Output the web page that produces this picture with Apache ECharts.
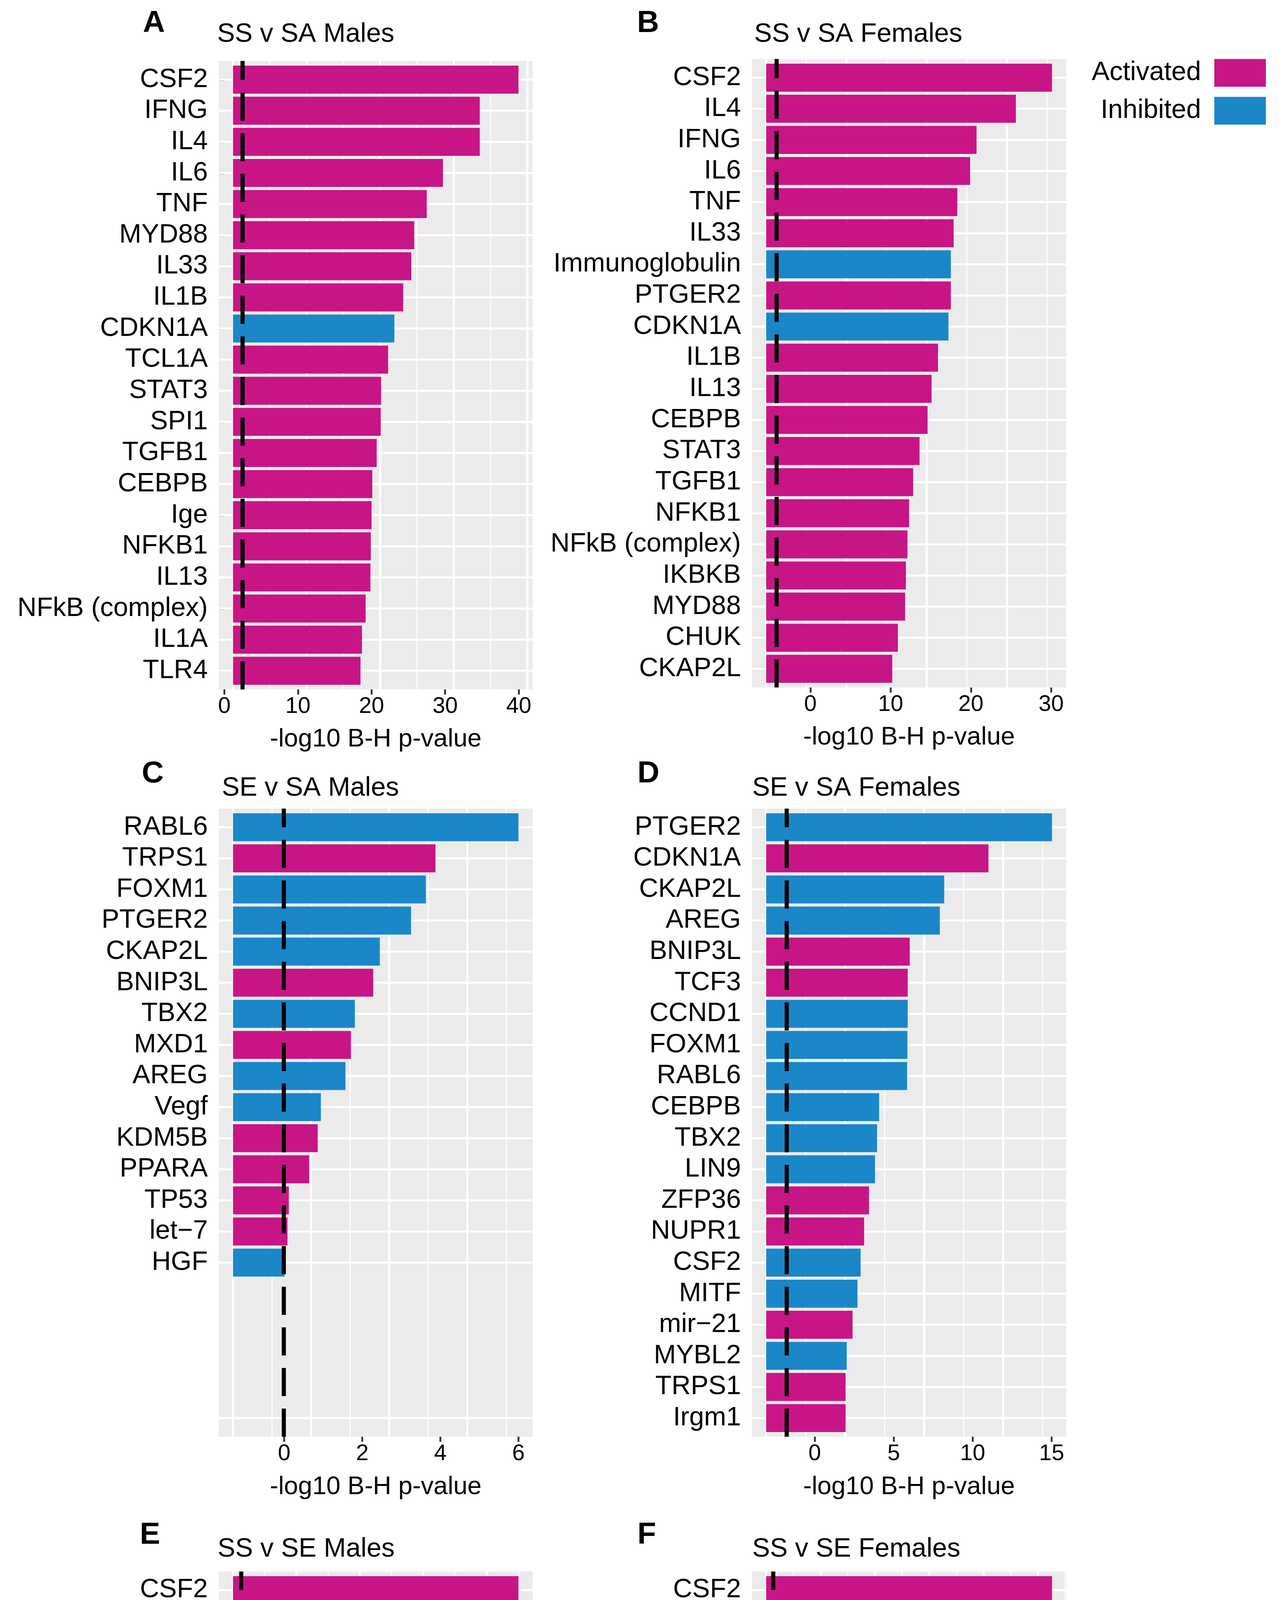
<!DOCTYPE html>
<html><head><meta charset="utf-8">
<script src="https://cdn.jsdelivr.net/npm/echarts@6/dist/echarts.min.js"></script>
<style>html,body{margin:0;padding:0;background:#fff}#c{width:3290px;height:5837px}</style>
</head><body><div id="c"></div>
<script>
// ---------------- data ----------------
const namesA = ['CSF2','IFNG','IL4','IL6','TNF','MYD88','IL33','IL1B','CDKN1A','TCL1A','STAT3','SPI1','TGFB1','CEBPB','Ige','NFKB1','IL13','NFkB (complex)','IL1A','TLR4'];
const valuesA = [39.96,34.7,34.7,29.7,27.5,25.8,25.4,24.3,23.1,22.25,21.3,21.25,20.7,20.1,20.0,19.9,19.85,19.2,18.7,18.5];
const dirA = ['A','A','A','A','A','A','A','A','I','A','A','A','A','A','A','A','A','A','A','A'];
const baseA = 1.18;
const ticksA = [0,10,20,30,40];
const stepA = 10;

const namesB = ['CSF2','IL4','IFNG','IL6','TNF','IL33','Immunoglobulin','PTGER2','CDKN1A','IL1B','IL13','CEBPB','STAT3','TGFB1','NFKB1','NFkB (complex)','IKBKB','MYD88','CHUK','CKAP2L'];
const valuesB = [30.1,25.6,20.7,19.9,18.3,17.85,17.5,17.5,17.2,15.9,15.1,14.6,13.6,12.8,12.3,12.1,11.9,11.8,10.9,10.2];
const dirB = ['A','A','A','A','A','A','I','A','I','A','A','A','A','A','A','A','A','A','A','A'];
const baseB = -5.51;
const ticksB = [0,10,20,30];
const stepB = 10;

const namesC = ['RABL6','TRPS1','FOXM1','PTGER2','CKAP2L','BNIP3L','TBX2','MXD1','AREG','Vegf','KDM5B','PPARA','TP53','let\u22127','HGF'];
const valuesC = [6.0,3.875,3.63,3.25,2.45,2.28,1.81,1.71,1.57,0.94,0.86,0.64,0.12,0.085,0.01];
const dirC = ['I','A','I','I','I','A','I','A','I','I','A','A','A','A','I'];
const baseC = -1.31;
const ticksC = [0,2,4,6];
const stepC = 2;
const rowSlotsC = 20;

const namesD = ['PTGER2','CDKN1A','CKAP2L','AREG','BNIP3L','TCF3','CCND1','FOXM1','RABL6','CEBPB','TBX2','LIN9','ZFP36','NUPR1','CSF2','MITF','mir\u221221','MYBL2','TRPS1','Irgm1'];
const valuesD = [15.02,11.0,8.2,7.92,6.02,5.89,5.89,5.87,5.85,4.08,3.95,3.82,3.44,3.13,2.91,2.71,2.40,2.03,1.96,1.96];
const dirD = ['I','A','I','I','A','A','I','I','I','I','I','I','A','A','I','I','A','I','A','A'];
const baseD = -3.07;
const ticksD = [0,5,10,15];
const stepD = 5;

const namesE = ['CSF2','IL6','CEBPB','IL4','TNF','IFNG','CDKN1A','PTGER2','IL1B','MYD88','TGFB1','NR1H3','TCL1A','IL17A','IL33','IL13','STAT3','NFkB (complex)','Ige','NOS2'];
const valuesE = [40.0,38.0,28.0,26.5,26.45,26.2,25.3,24.7,21.65,20.66,19.2,18.2,16.15,16.15,16.1,15.8,15.8,15.5,15.4,15.3];
const dirE = ['A','A','A','A','A','A','I','A','A','A','A','I','A','A','A','A','A','A','A','A'];
const baseE = -5.0;
const ticksE = [0,10,20,30,40];
const stepE = 10;

const namesF = ['CSF2','CDKN1A','PTGER2','IL6','CEBPB','IL4','CKAP2L','TCF3','TCL1A','IFNG','TNF','IL33','IKBKB','IL1B','TGFB1','Vegf','IL13','mir\u221221','NFkB (complex)','MYD88'];
const valuesF = [50.0,36.6,30.6,28.5,26.7,26.1,24.7,24.4,22.0,21.8,21.8,21.4,20.5,19.7,19.3,18.1,18.0,17.8,17.05,16.5];
const dirF = ['A','I','A','A','A','A','A','I','A','A','A','A','A','A','A','A','A','I','A','A'];
const baseF = -2.56;
const ticksF = [0,10,20,30,40,50];
const stepF = 10;

const SIG_OFFSET = 1.30103; // -log10(0.05)
const legendNames = ['Activated','Inhibited'];
const panelLetters = ['A','B','C','D','E','F'];
const panelTitles = ['SS v SA Males','SS v SA Females','SE v SA Males','SE v SA Females','SS v SE Males','SS v SE Females'];
const xTitle = '-log10 B-H p-value';

// ---------------- layout / style ----------------
const FONT = '"Liberation Sans", Arial, Helvetica, sans-serif';
const COLORS = {A:'#C71585', I:'#1A87C9'};
const boxes = [
  {left:560, top:156, width:804, height:1609, nameGap:96, lx:366, ly:21, tx:556, ty:54},
  {left:1925, top:151, width:805, height:1609, nameGap:96, lx:1631, ly:21, tx:1931, ty:54},
  {left:560, top:2070, width:804, height:1608, nameGap:97, lx:363, ly:1942, tx:568, ty:1984},
  {left:1925, top:2070, width:805, height:1608, nameGap:97, lx:1632, ly:1942, tx:1926, ty:1984},
  {left:560, top:4023, width:804, height:1607, nameGap:116, lx:358, ly:3891, tx:557, ty:3932},
  {left:1925, top:4023, width:805, height:1607, nameGap:116, lx:1632, ly:3891, tx:1926, ty:3932}
];

const panels = [
  {names:namesA, values:valuesA, dirs:dirA, base:baseA, ticks:ticksA, step:stepA},
  {names:namesB, values:valuesB, dirs:dirB, base:baseB, ticks:ticksB, step:stepB},
  {names:namesC, values:valuesC, dirs:dirC, base:baseC, ticks:ticksC, step:stepC, slots:rowSlotsC, gridRows:[1,2,3,4,5,6,7,8,9,10,11,12,13,14,15,20]},
  {names:namesD, values:valuesD, dirs:dirD, base:baseD, ticks:ticksD, step:stepD},
  {names:namesE, values:valuesE, dirs:dirE, base:baseE, ticks:ticksE, step:stepE},
  {names:namesF, values:valuesF, dirs:dirF, base:baseF, ticks:ticksF, step:stepF}
];

const grid = [], xAxis = [], yAxis = [], series = [], title = [];

panels.forEach((p, i) => {
  const b = boxes[i];
  const n = p.slots || p.names.length;
  const vmax = Math.max(...p.values);
  const span = vmax - p.base;
  const xMin = p.base - 0.05 * span, xMax = vmax + 0.05 * span;
  const rows = p.names.map((_, k) => k + 1);
  const gridRows = p.gridRows || rows;

  grid.push({left:b.left, top:b.top, width:b.width, height:b.height, show:true, backgroundColor:'#EBEBEB', borderWidth:0, containLabel:false});
  xAxis.push({
    gridIndex:i, type:'value', min:xMin, max:xMax,
    splitLine:{show:false}, axisLine:{show:false},
    axisTick:{show:true, customValues:p.ticks, length:13, lineStyle:{color:'#333333', width:4.7}},
    axisLabel:{customValues:p.ticks, margin:15, fontSize:58, lineHeight:58, color:'#000', fontFamily:FONT},
    name:xTitle, nameLocation:'middle', nameGap:b.nameGap,
    nameTextStyle:{fontSize:65, lineHeight:65, color:'#000', fontFamily:FONT}
  });
  yAxis.push({
    gridIndex:i, type:'value', inverse:true, min:0.4, max:n + 0.6,
    splitLine:{show:false}, axisLine:{show:false},
    axisTick:{show:true, customValues:rows, length:13, lineStyle:{color:'#333333', width:4.7}},
    axisLabel:{customValues:rows, formatter:(v) => p.names[Math.round(v) - 1] || '', margin:28, fontSize:68, color:'#000', fontFamily:FONT}
  });

  // background grid lines (through the axes' scales)
  const gridData = [];
  for (let k = 0; p.base + k * p.step / 2 <= xMax; k++) {
    gridData.push([p.base + k * p.step / 2, 1, k % 2 === 0 ? 0 : 1]);
  }
  gridRows.forEach(r => gridData.push([p.base, r, 2]));
  series.push({
    type:'custom', xAxisIndex:i, yAxisIndex:i, silent:true, z:1, data:gridData,
    renderItem:(params, api) => {
      const cs = params.coordSys;
      const kind = api.value(2);
      const pt = api.coord([api.value(0), api.value(1)]);
      if (kind === 2) {
        return {type:'line', shape:{x1:cs.x, y1:pt[1], x2:cs.x + cs.width, y2:pt[1]}, style:{stroke:'#FFFFFF', lineWidth:5.3}};
      }
      return {type:'line', shape:{x1:pt[0], y1:cs.y, x2:pt[0], y2:cs.y + cs.height}, style:{stroke:'#FFFFFF', lineWidth: kind === 0 ? 5.3 : 2.65}};
    }
  });

  // bars
  ['A','I'].forEach((d, di) => {
    const data = [];
    p.values.forEach((v, k) => { if (p.dirs[k] === d) data.push([v, k + 1]); });
    series.push({
      type:'custom', name:legendNames[di], xAxisIndex:i, yAxisIndex:i, z:2,
      itemStyle:{color:COLORS[d]}, data:data,
      renderItem:(params, api) => {
        const row = api.value(1);
        const s = api.coord([p.base, row]);
        const e = api.coord([api.value(0), row]);
        const h = Math.abs(api.size([0, 1])[1]) * 0.9;
        return {type:'rect', shape:{x:s[0], y:s[1] - h / 2, width:e[0] - s[0], height:h}, style:{fill:COLORS[d]}};
      }
    });
  });

  // significance threshold (dashed)
  series.push({
    type:'custom', xAxisIndex:i, yAxisIndex:i, silent:true, z:3, data:[[p.base + SIG_OFFSET, 1]],
    renderItem:(params, api) => {
      const cs = params.coordSys;
      const x = api.coord([api.value(0), api.value(1)])[0];
      return {type:'line', shape:{x1:x, y1:cs.y + cs.height, x2:x, y2:cs.y}, style:{stroke:'#000000', lineWidth:10.5, lineDash:[72, 32]}};
    }
  });

  title.push({text:panelLetters[i], left:b.lx, top:b.ly, padding:0, textStyle:{fontSize:78, lineHeight:78, fontWeight:'bold', color:'#000', fontFamily:FONT}});
  title.push({text:panelTitles[i], left:b.tx, top:b.ty, padding:0, textStyle:{fontSize:68, lineHeight:68, fontWeight:'normal', color:'#000', fontFamily:FONT}});
});

const legendCommon = {orient:'vertical', align:'right', right:49, icon:'rect', itemWidth:132, itemHeight:71, padding:0, selectedMode:false,
  textStyle:{fontSize:68, color:'#000', fontFamily:FONT, padding:[0, 29, 0, 0]}};

const option = {
  animation:false,
  backgroundColor:'#FFFFFF',
  title:title,
  legend:[
    Object.assign({}, legendCommon, {data:[legendNames[0]], top:151}),
    Object.assign({}, legendCommon, {data:[legendNames[1]], top:248})
  ],
  grid:grid, xAxis:xAxis, yAxis:yAxis, series:series
};

const chart = echarts.init(document.getElementById('c'), null, {renderer:'canvas'});
chart.setOption(option);
</script>
</body></html>
